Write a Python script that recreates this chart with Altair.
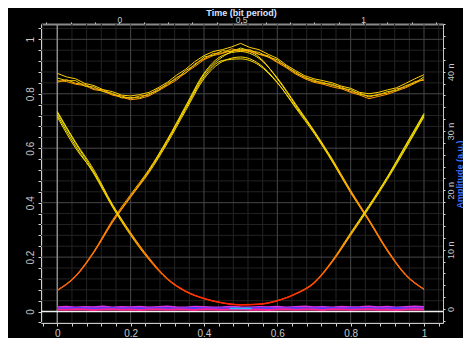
import altair as alt
import pandas as pd

# ---------------- data ----------------
X21 = [0.0, 0.05, 0.1, 0.15, 0.2, 0.25, 0.3, 0.35, 0.4, 0.45, 0.5,
       0.55, 0.6, 0.65, 0.7, 0.75, 0.8, 0.85, 0.9, 0.95, 1.0]
X41 = [0.0, 0.025, 0.05, 0.075, 0.1, 0.125, 0.15, 0.175, 0.2, 0.225, 0.25,
       0.275, 0.3, 0.325, 0.35, 0.375, 0.4, 0.425, 0.45, 0.475, 0.5,
       0.525, 0.55, 0.575, 0.6, 0.625, 0.65, 0.675, 0.7, 0.725, 0.75,
       0.775, 0.8, 0.825, 0.85, 0.875, 0.9, 0.925, 0.95, 0.975, 1.0]

# falling/rising "U" traces (1-0-1)
A1 = [0.735, 0.622, 0.52, 0.395, 0.29, 0.198, 0.122, 0.076, 0.048, 0.032, 0.025,
      0.027, 0.040, 0.066, 0.107, 0.188, 0.29, 0.39, 0.495, 0.612, 0.728]
A2 = [0.722, 0.608, 0.505, 0.385, 0.28, 0.19, 0.118, 0.073, 0.047, 0.031, 0.024,
      0.026, 0.039, 0.064, 0.103, 0.182, 0.28, 0.38, 0.485, 0.598, 0.715]
A3 = [0.715, 0.60, 0.51, 0.392, 0.287, 0.195, 0.12, 0.075, 0.049, 0.033, 0.026,
      0.028, 0.041, 0.065, 0.105, 0.186, 0.286, 0.386, 0.49, 0.603, 0.72]
A4 = [0.73, 0.618, 0.512, 0.388, 0.283, 0.193, 0.121, 0.074, 0.048, 0.032, 0.025,
      0.027, 0.04, 0.066, 0.106, 0.184, 0.283, 0.384, 0.493, 0.608, 0.724]

# bell traces (0-1-0)
B1 = [0.078, 0.132, 0.222, 0.335, 0.43, 0.522, 0.632, 0.755, 0.875, 0.94, 0.955,
      0.93, 0.858, 0.762, 0.665, 0.56, 0.445, 0.338, 0.228, 0.137, 0.083]
B2 = [0.077, 0.128, 0.217, 0.326, 0.42, 0.51, 0.618, 0.738, 0.855, 0.918, 0.935,
      0.91, 0.842, 0.748, 0.655, 0.55, 0.436, 0.332, 0.222, 0.133, 0.081]
B3 = [0.079, 0.131, 0.22, 0.33, 0.424, 0.515, 0.624, 0.745, 0.862, 0.922, 0.928,
      0.905, 0.84, 0.752, 0.662, 0.556, 0.442, 0.336, 0.226, 0.135, 0.082]
B4 = [0.078, 0.129, 0.219, 0.328, 0.422, 0.518, 0.628, 0.75, 0.87, 0.935, 0.962,
      0.935, 0.855, 0.758, 0.66, 0.553, 0.438, 0.334, 0.224, 0.134, 0.082]

# top traces (1-1-1)
C1 = [0.875, 0.862, 0.855, 0.838, 0.83, 0.815, 0.808, 0.795, 0.792, 0.797, 0.805,
      0.822, 0.842, 0.868, 0.89, 0.918, 0.94, 0.955, 0.962, 0.972, 0.985,
      0.97, 0.962, 0.945, 0.93, 0.905, 0.885, 0.866, 0.855, 0.848, 0.84,
      0.828, 0.82, 0.805, 0.8, 0.805, 0.814, 0.822, 0.838, 0.855, 0.87]
C2 = [0.848, 0.845, 0.835, 0.83, 0.815, 0.81, 0.795, 0.788, 0.778, 0.782, 0.792,
      0.81, 0.83, 0.85, 0.878, 0.9, 0.925, 0.94, 0.948, 0.958, 0.96,
      0.955, 0.945, 0.935, 0.915, 0.895, 0.872, 0.855, 0.842, 0.835, 0.825,
      0.818, 0.805, 0.795, 0.782, 0.79, 0.798, 0.81, 0.822, 0.838, 0.855]
C3 = [0.858, 0.848, 0.848, 0.828, 0.825, 0.808, 0.802, 0.785, 0.786, 0.785, 0.8,
      0.812, 0.838, 0.855, 0.885, 0.905, 0.935, 0.942, 0.958, 0.955, 0.968,
      0.958, 0.952, 0.935, 0.925, 0.898, 0.88, 0.858, 0.85, 0.838, 0.835,
      0.82, 0.815, 0.798, 0.792, 0.795, 0.808, 0.812, 0.83, 0.84, 0.862]
C4 = [0.842, 0.852, 0.838, 0.835, 0.818, 0.815, 0.798, 0.792, 0.782, 0.792, 0.795,
      0.818, 0.832, 0.86, 0.875, 0.91, 0.928, 0.948, 0.95, 0.965, 0.958,
      0.962, 0.945, 0.94, 0.918, 0.902, 0.875, 0.862, 0.845, 0.842, 0.83,
      0.825, 0.808, 0.802, 0.788, 0.798, 0.802, 0.818, 0.825, 0.845, 0.85]
C_COLORS = ["#ffd000", "#ff9a00", "#e8d800", "#ffb400"]

# noise floor (0-0-0)
D1 = [0.016, 0.018, 0.015, 0.017, 0.016, 0.019, 0.015, 0.017, 0.016, 0.018, 0.015,
      0.017, 0.019, 0.016, 0.015, 0.018, 0.017, 0.015, 0.016, 0.018, 0.016,
      0.015, 0.017, 0.016, 0.018, 0.015, 0.017, 0.019, 0.016, 0.017, 0.015,
      0.018, 0.016, 0.017, 0.019, 0.016, 0.018, 0.015, 0.017, 0.019, 0.017]
D2 = [0.012, 0.011, 0.013, 0.012, 0.011, 0.012, 0.013, 0.011, 0.012, 0.012, 0.011,
      0.013, 0.012, 0.011, 0.012, 0.013, 0.012, 0.011, 0.012, 0.012, 0.011,
      0.012, 0.013, 0.012, 0.011, 0.012, 0.013, 0.011, 0.012, 0.012, 0.013,
      0.011, 0.012, 0.013, 0.012, 0.011, 0.012, 0.013, 0.012, 0.011, 0.012]
D3 = [0.008, 0.007, 0.009, 0.008, 0.006, 0.008, 0.009, 0.007, 0.008, 0.006, 0.008,
      0.009, 0.007, 0.008, 0.008, 0.006, 0.009, 0.008, 0.007, 0.008, 0.009,
      0.007, 0.008, 0.006, 0.008, 0.009, 0.007, 0.008, 0.008, 0.006, 0.009,
      0.008, 0.007, 0.008, 0.009, 0.007, 0.008, 0.006, 0.008, 0.009, 0.008]
D_COLORS = ["#e030e0", "#4a3cff", "#ff2090"]
D_CYAN_X = [0.47, 0.485, 0.5, 0.515, 0.53]
D_CYAN_Y = [0.011, 0.012, 0.011, 0.012, 0.011]

# axis ticks
X_TICKS = [round(i * 0.04, 2) for i in range(-1, 27)]
Y_TICKS = [round(i * 0.04, 2) for i in range(-1, 27)]
X_MAJOR = [0.2, 0.4, 0.6, 0.8, 1.0]
Y_MAJOR = [0.2, 0.4, 0.6, 0.8, 1.0]
TOP_TICKS = [round(i * 0.1, 1) for i in range(-3, 14)]
RIGHT_TICKS = list(range(-2, 49, 2))

# ---------------- helpers ----------------
def trace_df(xs, ys):
    return pd.DataFrame({"x": xs, "y": ys})

FONT = "Liberation Sans"
LABEL = "#c8c8c8"

XS = alt.Scale(domain=[-0.0444, 1.0518], nice=False, zero=False)
YS = alt.Scale(domain=[-0.0419, 1.0562], nice=False, zero=False)
TS = alt.Scale(domain=[-0.3213, 1.3283], nice=False, zero=False)
RS = alt.Scale(domain=[-2.36, 48.04], nice=False, zero=False)

X_AXIS = alt.Axis(orient="bottom", values=X_TICKS, grid=False, title=None,
                  labelExpr="abs(datum.value*5 - round(datum.value*5)) < 0.001 ? format(datum.value, '~g') : ''",
                  labelOverlap=False, labelFlush=False, labelFont=FONT, labelFontSize=10,
                  labelColor=LABEL, labelPadding=2, tickSize=3, tickColor="#d8d8d8",
                  domainColor="#c8c8c8", domainWidth=1)
Y_AXIS = alt.Axis(orient="left", values=Y_TICKS, grid=False, title=None,
                  labelExpr="abs(datum.value*5 - round(datum.value*5)) < 0.001 ? format(datum.value, '~g') : ''",
                  labelOverlap=False, labelFlush=False, labelFont=FONT, labelFontSize=10,
                  labelColor=LABEL, labelAngle=270, labelAlign="center", labelBaseline="bottom",
                  labelPadding=3, tickSize=3, tickColor="#d8d8d8",
                  domainColor="#d0d0d0", domainWidth=1)

xe = alt.X("x:Q", scale=XS, axis=X_AXIS)
ye = alt.Y("y:Q", scale=YS, axis=Y_AXIS)

# ---------------- grid ----------------
vminor = pd.DataFrame({"x": [v for v in X_TICKS if v not in X_MAJOR and v != 0]})
vmajor = pd.DataFrame({"x": X_MAJOR})
hminor = pd.DataFrame({"y": [v for v in Y_TICKS if v not in Y_MAJOR and v != 0]})
hmajor = pd.DataFrame({"y": Y_MAJOR})

layers = [
    alt.Chart(vminor).mark_rule(color="#232323", strokeWidth=1).encode(x=xe),
    alt.Chart(hminor).mark_rule(color="#232323", strokeWidth=1).encode(y=ye),
    alt.Chart(vmajor).mark_rule(color="#474747", strokeWidth=1).encode(x=xe),
    alt.Chart(hmajor).mark_rule(color="#474747", strokeWidth=1).encode(y=ye),
    alt.Chart(pd.DataFrame({"x": [0.0]})).mark_rule(color="#8c8c8c", strokeWidth=1.5).encode(x=xe),
    alt.Chart(pd.DataFrame({"y": [0.0]})).mark_rule(color="#f0f0f0", strokeWidth=1.5).encode(y=ye),
]

# ---------------- traces ----------------
gradA = alt.Gradient(gradient="linear", x1=0, x2=0, y1=0, y2=1, stops=[
    alt.GradientStop(color="#f2e000", offset=0),
    alt.GradientStop(color="#f5d000", offset=0.55),
    alt.GradientStop(color="#ff9000", offset=0.72),
    alt.GradientStop(color="#ff5000", offset=0.88),
    alt.GradientStop(color="#ff2200", offset=1)])
gradB = alt.Gradient(gradient="linear", x1=0, x2=0, y1=0, y2=1, stops=[
    alt.GradientStop(color="#ffe000", offset=0),
    alt.GradientStop(color="#f8d000", offset=0.45),
    alt.GradientStop(color="#ffa000", offset=0.6),
    alt.GradientStop(color="#ff7a00", offset=0.8),
    alt.GradientStop(color="#f06010", offset=1)])

for ys, col in zip([D1, D2, D3], D_COLORS):
    layers.append(alt.Chart(trace_df(X41, ys)).mark_line(strokeWidth=2, color=col).encode(x=xe, y=ye))
layers.append(alt.Chart(trace_df(D_CYAN_X, D_CYAN_Y)).mark_line(strokeWidth=1.5, color="#20c0ff").encode(x=xe, y=ye))
for ys in [B1, B2, B3, B4]:
    layers.append(alt.Chart(trace_df(X21, ys)).mark_line(stroke=gradB, strokeWidth=1, interpolate="monotone").encode(x=xe, y=ye))
for ys in [A1, A2, A3, A4]:
    layers.append(alt.Chart(trace_df(X21, ys)).mark_line(stroke=gradA, strokeWidth=1, interpolate="monotone").encode(x=xe, y=ye))
for ys, col in zip([C1, C2, C3, C4], C_COLORS):
    layers.append(alt.Chart(trace_df(X41, ys)).mark_line(strokeWidth=1, color=col).encode(x=xe, y=ye))

main = alt.layer(*layers)

# ---------------- top axis (bit period) ----------------
top_df = pd.DataFrame({"t": TOP_TICKS, "yv": [0.5] * len(TOP_TICKS)})
TOP_AXIS = alt.Axis(orient="top", values=TOP_TICKS, grid=False,
                    title="Time (bit period)", titleFont=FONT, titleFontSize=9,
                    titleFontWeight="bold", titleColor="#dce4ff",
                    titleX=200, titleY=-16, titleAlign="center", titleBaseline="top",
                    labelExpr="abs(datum.value*2 - round(datum.value*2)) < 0.001 && datum.value > -0.01 && datum.value < 1.01 ? format(datum.value, '~g') : ''",
                    labelOverlap=False, labelFlush=False, labelFont=FONT, labelFontSize=8.5,
                    labelColor=LABEL, labelPadding=0, labelBaseline="alphabetic",
                    tickSize=2, tickColor="#e8e8e8",
                    domainColor="#8a8a8a", domainWidth=2)
top_layer = alt.Chart(top_df).mark_point(opacity=0).encode(
    x=alt.X("t:Q", scale=TS, axis=TOP_AXIS),
    y=alt.Y("yv:Q", scale=YS, axis=None))

# ---------------- right axis (amplitude) ----------------
right_df = pd.DataFrame({"n": RIGHT_TICKS, "xv": [0.5] * len(RIGHT_TICKS)})
RIGHT_AXIS = alt.Axis(orient="right", values=RIGHT_TICKS, grid=False,
                      title="Amplitude (a.u.)", titleFont=FONT, titleFontSize=9,
                      titleFontWeight="bold", titleColor="#3f6fff", titleAngle=270,
                      titleX=16, titleY=150, titleAlign="center", titleBaseline="middle",
                      labelExpr="datum.value % 10 == 0 && datum.value >= 0 ? (datum.value == 0 ? '0' : datum.value + ' n') : ''",
                      labelOverlap=False, labelFlush=False, labelFont=FONT, labelFontSize=9,
                      labelColor=LABEL, labelAngle=270, labelAlign="center", labelBaseline="top",
                      labelPadding=1, tickSize=2, tickColor="#d8d8d8",
                      domainColor="#c8c8c8", domainWidth=1)
right_layer = alt.Chart(right_df).mark_point(opacity=0).encode(
    x=alt.X("xv:Q", scale=XS, axis=None),
    y=alt.Y("n:Q", scale=RS, axis=RIGHT_AXIS))

chart = alt.layer(main, top_layer, right_layer).resolve_scale(
    x="independent", y="independent"
).properties(
    width=402, height=299,
    autosize=alt.AutoSizeParams(type="none"),
    padding={"left": 33, "top": 16, "right": 20, "bottom": 15},
    background="#000000",
).configure_view(strokeWidth=0)

chart.save("out.html", embed_options={"renderer": "svg", "actions": False})
